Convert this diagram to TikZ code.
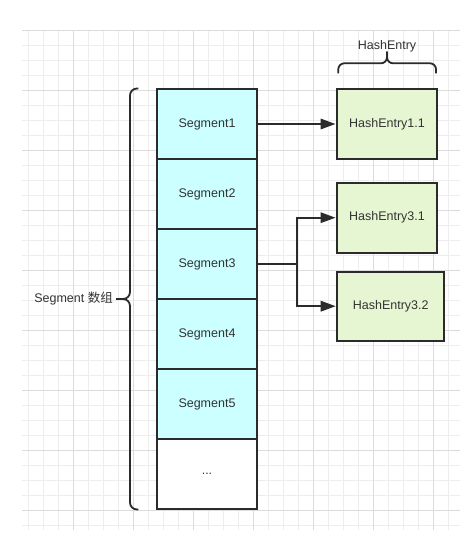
\documentclass[tikz,border=0pt]{standalone}
\usepackage{fontspec}
\setmainfont{Liberation Sans}
\newfontfamily\cjk{Noto Sans CJK SC}
\usetikzlibrary{arrows.meta, positioning}
\usepackage{xcolor}
\definecolor{segfill}{HTML}{CCFFFF}
\definecolor{entryfill}{HTML}{E6F6D2}
\definecolor{linegray}{HTML}{2B2B2B}
\definecolor{textgray}{HTML}{333333}
\definecolor{gridminor}{HTML}{EDEDED}
\definecolor{gridmajor}{HTML}{DCDCDC}

\begin{document}
\begin{tikzpicture}[x=1pt, y=-1pt, font=\fontsize{12.5}{15}\selectfont]
			\tikzstyle{segnode}=[
			draw=linegray,
			line width=2pt,
			fill=segfill,
			text=textgray,
			minimum width=100pt,
			minimum height=70pt,
			inner sep=0pt,
			outer sep=0pt
			]
			\tikzstyle{entrynode}=[
			segnode,
			fill=entryfill
			]
			\tikzstyle{link}=[
			draw=linegray,
			line width=1.7pt,
			shorten >=1.5pt,
			-{Triangle[length=15pt, width=10.5pt]}
			]
			\tikzstyle{bracket}=[
			draw=linegray,
			line width=1.8pt,
			rounded corners=7pt
			]
			\useasboundingbox[fill=white] (0,0) rectangle (475,553);
			% grid
			\foreach \gx in {28.33,43.33,...,449} \draw[gridminor, line width=0.6pt] (\gx,30) -- (\gx,530);
			\foreach \gy in {30,45,...,526} \draw[gridminor, line width=0.6pt] (22,\gy) -- (460,\gy);
			\foreach \gx in {73.33,133.33,...,434} \draw[gridmajor, line width=0.7pt] (\gx,30) -- (\gx,530);
			\foreach \gy in {30,90,...,511} \draw[gridmajor, line width=0.7pt] (22,\gy) -- (460,\gy);
			% segment array
			\node[segnode] (seg1) at (207,124) {Segment1};
			\node[segnode, below=0pt of seg1] (seg2) {Segment2};
			\node[segnode, below=0pt of seg2] (seg3) {Segment3};
			\node[segnode, below=0pt of seg3] (seg4) {Segment4};
			\node[segnode, below=0pt of seg4] (seg5) {Segment5};
			\node[segnode, fill=white, below=0pt of seg5] (segdots) {...};
			% hash entries
			\node[entrynode] (he11) at (387,124) {HashEntry1.1};
			\node[entrynode] (he31) at (387,217.7) {HashEntry3.1};
			\node[entrynode, minimum width=107pt, minimum height=69pt] (he32) at (390.7,306.2) {HashEntry3.2};
			\coordinate (split) at (296.7,264);
			\path[link] (seg1.east) -- (he11.west);
			\path[link] (seg3.east) -- (split) |- (he31.west);
			\path[link] (split) |- (he32.west);
			% braces
			\coordinate (ltip) at (116,299);
			\draw[bracket] (138.3,88.5) -- (130,88.5) -- (130,299) -- (ltip);
			\draw[bracket] (ltip) -- (130,299) -- (130,509.5) -- (138.3,509.5);
			\node[anchor=east, text=textgray, inner sep=3pt] (arraylabel) at (ltip) {Segment {\cjk 数组}};
			\coordinate (ttip) at (387,51.7);
			\draw[bracket, rounded corners=6pt] (338.3,73.3) -- (338.3,63.3) -- (387,63.3) -- (ttip);
			\draw[bracket, rounded corners=6pt] (ttip) -- (387,63.3) -- (436,63.3) -- (436,73.3);
			\node[anchor=base, text=textgray] (entrylabel) at (387,49.3) {HashEntry};
		\end{tikzpicture}
\end{document}
